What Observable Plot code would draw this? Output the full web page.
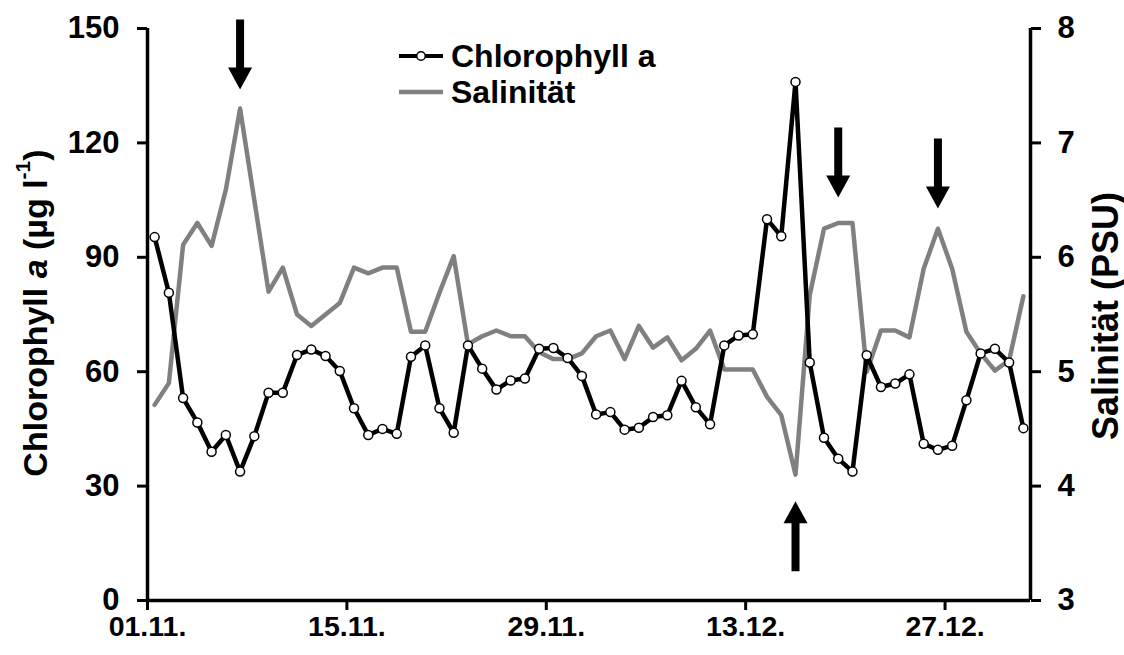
<!DOCTYPE html>
<html>
<head>
<meta charset="utf-8">
<script src="https://cdn.jsdelivr.net/npm/d3@7"></script>
<script src="https://cdn.jsdelivr.net/npm/@observablehq/plot@0.6"></script>
<style>
  html, body { margin: 0; padding: 0; background: #fff; }
  #wrap { position: relative; width: 1124px; height: 655px; font-family: "Liberation Sans", Arial, sans-serif; font-weight: bold; }
  #legend { position: absolute; left: 398px; top: 38px; font-size: 32px; line-height: 36px; color: #000; }
  #legend .row { display: flex; align-items: center; height: 36px; }
  #legend svg { margin-right: 7px; }
</style>
</head>
<body>
<div id="wrap">
  <div id="chart"></div>
  <div id="legend">
    <div class="row"><svg width="46" height="14"><line x1="1" x2="45" y1="7" y2="7" stroke="#000" stroke-width="4"/><circle cx="23" cy="7" r="4.3" fill="#fff" stroke="#000" stroke-width="1.5"/></svg><span>Chlorophyll a</span></div>
    <div class="row"><svg width="46" height="14"><line x1="1" x2="45" y1="7" y2="7" stroke="#808080" stroke-width="4.5"/></svg><span>Salinität</span></div>
  </div>
</div>
<script>
// ---- data ----
const startDate = "01.11.2008";
const endDate = "02.01.2009";
const xTickLabels = ["01.11.", "15.11.", "29.11.", "13.12.", "27.12."];
const chlTicks = [0, 30, 60, 90, 120, 150];
const salTicks = [3, 4, 5, 6, 7, 8];

const chlorophyll = [
  95.3, 80.7, 53.1, 46.7, 39.0, 43.4, 33.8, 43.1, 54.5, 54.5,
  64.4, 65.8, 64.1, 60.2, 50.4, 43.4, 45.0, 43.7, 63.9, 66.9,
  50.4, 44.0, 66.9, 60.8, 55.3, 57.7, 58.2, 66.0, 66.2, 63.6,
  58.9, 48.8, 49.4, 44.8, 45.3, 48.1, 48.6, 57.6, 50.7, 46.2,
  66.9, 69.5, 69.8, 100.0, 95.5, 136.0, 62.4, 42.7, 37.2, 33.8,
  64.3, 56.0, 56.9, 59.3, 41.1, 39.5, 40.6, 52.5, 64.8, 66.0,
  62.4, 45.2
];
const salinity = [
  4.71, 4.90, 6.11, 6.30, 6.10, 6.59, 7.30, 6.50, 5.70, 5.91,
  5.50, 5.40, 5.50, 5.60, 5.91, 5.86, 5.91, 5.91, 5.35, 5.35,
  5.69, 6.01, 5.24, 5.31, 5.36, 5.31, 5.31, 5.17, 5.11, 5.11,
  5.16, 5.31, 5.36, 5.11, 5.40, 5.21, 5.30, 5.10, 5.20, 5.36,
  5.02, 5.02, 5.02, 4.78, 4.62, 4.10, 5.67, 6.25, 6.30, 6.30,
  5.00, 5.36, 5.36, 5.30, 5.90, 6.25, 5.90, 5.35, 5.16, 5.01,
  5.10, 5.66
];
// arrow annotations: day index, tip value (chlorophyll units), direction
const arrowDay = [6, 48, 55, 45];
const arrowTip = [134, 105.7, 102.8, 26];
const arrowDir = ["down", "down", "down", "up"];

// ---- build ----
const parse = d3.utcParse("%d.%m.%Y");
const x0 = parse(startDate), x1 = parse(endDate);
const days = d3.utcDay.range(x0, x1);
const mid = d => d3.utcHour.offset(d, 12);
const data = days.map((d, i) => ({date: mid(d), chl: chlorophyll[i], sal: salinity[i]}));
const xTicks = xTickLabels.map(s => parse(s + "2008"));
const sal2chl = d3.scaleLinear([3, 8], [0, 150]);
const arrows = arrowDay.map((d, i) => ({date: mid(days[d]), tip: arrowTip[i], rot: arrowDir[i] === "down" ? 180 : 0}));

const arrowShape = {
  draw(context, l) {
    const hw = 12, hl = 22, sw = 4;
    context.moveTo(-sw, 0);
    context.lineTo(-sw, -(l - hl));
    context.lineTo(-hw, -(l - hl));
    context.lineTo(0, -l);
    context.lineTo(hw, -(l - hl));
    context.lineTo(sw, -(l - hl));
    context.lineTo(sw, 0);
    context.closePath();
  }
};

const axisStroke = 3.5;
const chart = Plot.plot({
  width: 1124,
  height: 655,
  marginLeft: 147,
  marginRight: 94,
  marginTop: 28,
  marginBottom: 55,
  style: {fontFamily: "'Liberation Sans', Arial, sans-serif", fontWeight: "bold", background: "white", overflow: "visible", color: "black"},
  x: {type: "utc", domain: [x0, x1]},
  y: {domain: [0, 150]},
  marks: [
    Plot.axisY(chlTicks, {anchor: "left", tickSize: 10, tickPadding: 18, fontSize: 31, strokeWidth: 3, label: null}),
    Plot.axisY(salTicks.map(sal2chl), {anchor: "right", tickSize: 10, tickPadding: 17, fontSize: 31, strokeWidth: 3, label: null, tickFormat: v => sal2chl.invert(v)}),
    Plot.axisX(xTicks, {tickSize: 10, tickPadding: 5, fontSize: 28.5, strokeWidth: 3, label: null, tickFormat: d3.utcFormat("%d.%m.")}),
    Plot.ruleX([x0], {strokeWidth: axisStroke, stroke: "black"}),
    Plot.ruleX([x1], {strokeWidth: axisStroke, stroke: "black"}),
    Plot.ruleY([0], {strokeWidth: axisStroke, stroke: "black"}),
    Plot.line(data, {x: "date", y: d => sal2chl(d.sal), stroke: "#808080", strokeWidth: 4.5}),
    Plot.line(data, {x: "date", y: "chl", stroke: "black", strokeWidth: 4.5}),
    Plot.dot(data, {x: "date", y: "chl", r: 4.5, fill: "white", stroke: "black", strokeWidth: 1.5}),
    Plot.vector(arrows, {x: "date", y: "tip", length: 70, rotate: "rot", anchor: "end", shape: arrowShape, fill: "black", stroke: "none"})
  ]
});
document.getElementById("chart").appendChild(chart);

// axis titles
const svg = d3.select(chart);
const lt = svg.append("text")
  .attr("transform", "translate(35,313) rotate(-90)")
  .attr("text-anchor", "middle")
  .attr("dominant-baseline", "central")
  .attr("font-size", 34).attr("font-weight", "bold").attr("fill", "black");
lt.append("tspan").text("Chlorophyll ");
lt.append("tspan").attr("font-style", "italic").text("a");
lt.append("tspan").text(" (µg l");
lt.append("tspan").attr("font-size", 21).attr("dy", -13).text("-1");
lt.append("tspan").attr("dy", 13).text(")");

svg.append("text")
  .attr("transform", "translate(1105,316) rotate(-90)")
  .attr("text-anchor", "middle")
  .attr("dominant-baseline", "central")
  .attr("font-size", 36).attr("font-weight", "bold").attr("fill", "black")
  .text("Salinität (PSU)");
</script>
</body>
</html>
